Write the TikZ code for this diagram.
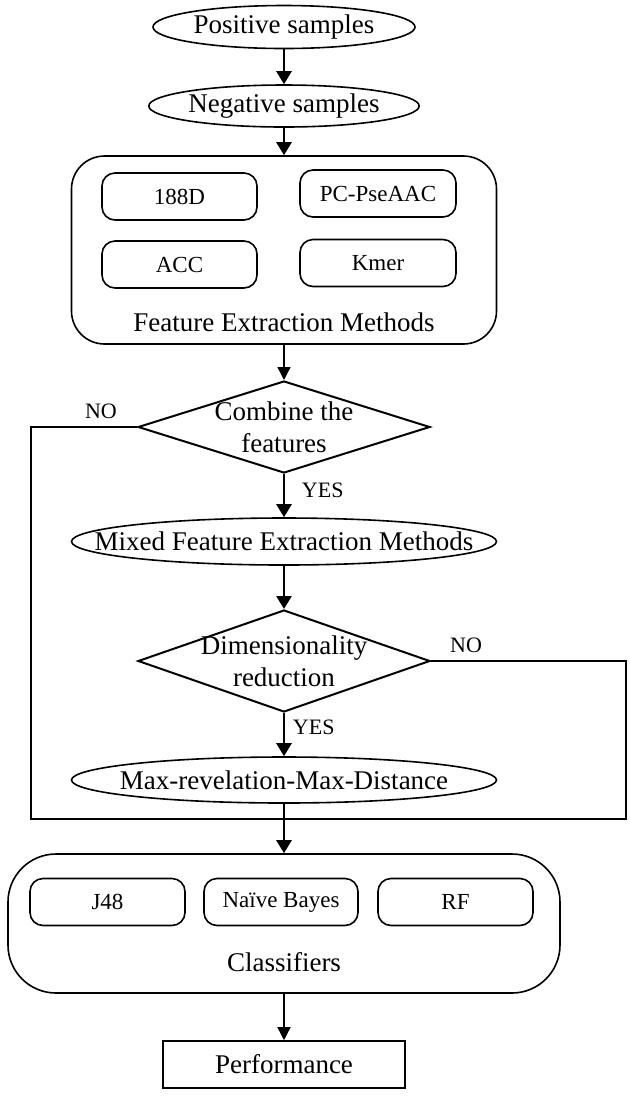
\documentclass[tikz,border=0pt]{standalone}
\usepackage{fontspec}
\setmainfont{Liberation Serif}
\usetikzlibrary{shapes.geometric,arrows.meta}

\begin{document}
\begin{tikzpicture}[x=0.5pt, y=-0.5pt,
  every node/.style={font=\fontsize{13.5}{16}\selectfont},
  oval/.style={ellipse, draw, line width=0.8pt, inner sep=0pt},
  method/.style={rectangle, draw, rounded corners=6.5pt, line width=0.8pt,
    minimum width=77.5pt, minimum height=23.5pt, inner sep=0pt,
    font=\fontsize{11.5}{14}\selectfont},
  group/.style={rectangle, draw, line width=0.8pt, inner sep=0pt},
  decide/.style={diamond, draw, line width=1pt, inner sep=0pt, align=center,
    minimum width=146pt},
  yn/.style={font=\fontsize{11}{13}\selectfont},
  flow/.style={line width=1.3pt, -{Triangle[width=7.5pt,length=6.5pt]}},
  thinflow/.style={line width=0.7pt, -{Triangle[width=6.5pt,length=6.5pt]}},
  back/.style={line width=1.3pt}]

  \useasboundingbox (0,0) rectangle (630,1100);

  %% samples
  \node[oval, minimum width=131pt, minimum height=21.5pt] (pos) at (284,27) {Positive samples};
  \node[oval, minimum width=129.5pt, minimum height=21pt] (neg) at (284,106) {Negative samples};

  %% feature extraction
  \node[group, rounded corners=16.5pt, minimum width=212.5pt, minimum height=94pt] (feat) at (284,250) {};
  \node[method] (d188) at (179.5,196.5) {188D};
  \node[method, minimum width=78pt] (pse) at (378,193.5) {PC-PseAAC};
  \node[method] (acc) at (179.5,264.5) {ACC};
  \node[method, minimum width=78pt] (kmer) at (378,263) {Kmer};
  \node (featlbl) at (284,322) {Feature Extraction Methods};

  \node[decide, minimum height=46pt] (comb) at (284,427)
    {\makebox[0pt]{Combine the}\\\makebox[0pt]{features}};
  \node[oval, minimum width=212.5pt, minimum height=23.5pt] (mixed) at (284,541.5)
    {\makebox[0pt]{Mixed Feature Extraction Methods}};
  \node[decide, minimum height=51pt] (dim) at (284,661)
    {\makebox[0pt]{Dimensionality}\\\makebox[0pt]{reduction}};
  \node[oval, minimum width=212.5pt, minimum height=23pt] (maxrel) at (284,780)
    {\makebox[0pt]{Max-revelation-Max-Distance}};

  %% classifiers
  \node[group, rounded corners=24pt, minimum width=276pt, minimum height=69.5pt] (clf) at (284,923.5) {};
  \node[method] (j48) at (107.5,902) {J48};
  \node[method, minimum width=77pt] (nb) at (281,902) {Naïve Bayes};
  \node[method] (rf) at (455.5,902) {RF};
  \node (clflbl) at (284,962) {Classifiers};

  \node[group, minimum width=121pt, minimum height=23.5pt] (perf) at (284,1064.5) {Performance};

  \coordinate (lb) at (31,819);
  \coordinate (rb) at (626,819);

  \draw[flow] (pos) -- (neg);
  \draw[flow] (neg) -- (feat);
  \draw[thinflow] (feat) -- (comb);
  \draw[flow] (comb) -- node[yn, right=5pt, pos=0.38] {YES} (mixed);
  \draw[flow] (mixed) -- (dim);
  \draw[flow] (dim) -- node[yn, right=0.5pt, pos=0.33] {YES} (maxrel);
  \draw[flow] (maxrel) -- (clf);
  \draw[thinflow] (clf) -- (perf);

  %% NO branches
  \draw[back] (comb.west) -| node[yn, above, pos=0.17] {NO} (lb) -- (rb)
    |- node[yn, above, pos=0.91] {NO} (dim.east);
\end{tikzpicture}
\end{document}
